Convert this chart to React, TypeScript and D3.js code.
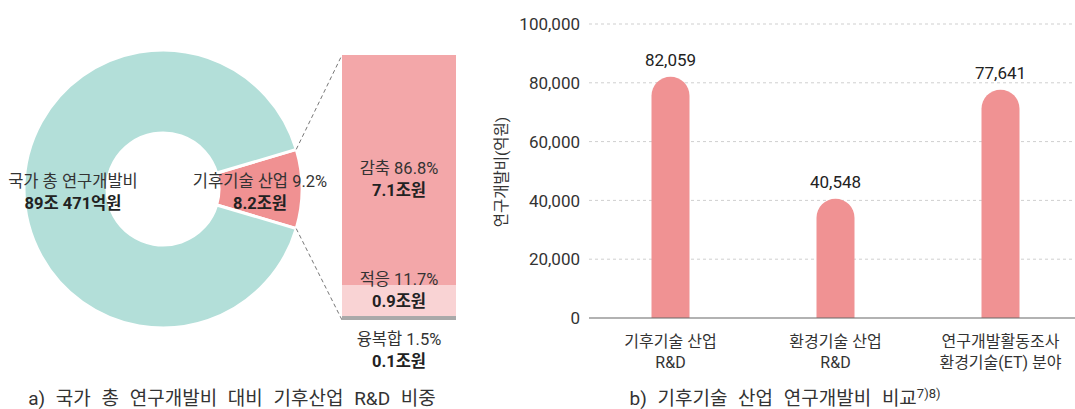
import React from 'react';
import * as d3 from 'd3';

// left: share of national R&D
const donutLabels = ['기후기술 산업', '국가 총 연구개발비'];
const donutShares = [9.2, 90.8];
const donutAmounts = ['8.2조원', '89조 471억원'];

// breakdown of the climate slice
const splitLabels = ['감축', '적응', '융복합'];
const splitShares = [86.8, 11.7, 1.5];
const splitAmounts = ['7.1조원', '0.9조원', '0.1조원'];

// right: R&D expenditure comparison
const barCategories = [['기후기술 산업', 'R&D'], ['환경기술 산업', 'R&D'], ['연구개발활동조사', '환경기술(ET) 분야']];
const barValues = [82059, 40548, 77641];
const yTicks = [0, 20000, 40000, 60000, 80000, 100000];

const FONT = "Roboto, 'Noto Sans CJK KR', 'Noto Sans', sans-serif";
const W = 1075;
const H = 409;

const roundTopBar = (x: number, y: number, w: number, h: number) => {
  const r = Math.min(w / 2, h);
  return `M${x},${y + h}V${y + r}A${r},${r} 0 0 1 ${x + w},${y + r}V${y + h}Z`;
};

export default function App() {
  // donut
  const cx = 163, cy = 189, R = 139, r0 = 56;
  const half = (donutShares[0] / 100) * Math.PI;
  const pie = d3.pie<number>().sort(null).startAngle(Math.PI / 2 - half).endAngle(Math.PI / 2 - half + 2 * Math.PI);
  const arcs = pie(donutShares);
  const arc = d3.arc<d3.PieArcDatum<number>>().innerRadius(r0).outerRadius(R);
  const donutColors = ['#f09192', '#b3dfd9'];
  const a0 = arcs[0].startAngle, a1 = arcs[0].endAngle;
  const p0 = [cx + R * Math.sin(a0), cy - R * Math.cos(a0)];
  const p1 = [cx + R * Math.sin(a1), cy - R * Math.cos(a1)];

  // breakdown column
  const colX = 342, colW = 114;
  const sy = d3.scaleLinear().domain([0, 100]).range([55, 320]);
  const splitColors = ['#f3a7a9', '#f9d3d4', '#a9a9a9'];
  let acc = 0;
  const segs = splitShares.map((v, i) => {
    const s = { y0: sy(acc), y1: sy(acc + v), i };
    acc += v;
    return s;
  });
  const splitTextY = [174, 285, 345];

  // bar chart
  const x = d3.scaleBand<number>().domain([0, 1, 2]).range([588, 1083]).padding(0);
  const y = d3.scaleLinear().domain([0, 100000]).range([318, 24]);
  const fmt = d3.format(',');
  const bw = 38;

  const lbl = { fontSize: 16.5, fill: '#333' } as const;
  const bold = { fontSize: 16.5, fontWeight: 700, fill: '#222' } as const;

  return (
    <svg width={W} height={H} style={{ position: 'absolute', left: 0, top: 0, fontFamily: FONT }}>
      <rect width={W} height={H} fill="#fff" />
      {/* donut */}
      <g transform={`translate(${cx},${cy})`}>
        {arcs.map((d, i) => (
          <path key={i} d={arc(d) || ''} fill={donutColors[i]} stroke="#fff" strokeWidth={3} />
        ))}
      </g>
      <text x={73} y={187} textAnchor="middle" {...lbl}>{donutLabels[1]}</text>
      <text x={73} y={209} textAnchor="middle" {...bold}>{donutAmounts[1]}</text>
      <text x={260} y={187} textAnchor="middle" {...lbl}>{donutLabels[0]} {donutShares[0]}%</text>
      <text x={260} y={209} textAnchor="middle" {...bold}>{donutAmounts[0]}</text>

      {/* connectors */}
      <line x1={p0[0]} y1={p0[1]} x2={colX} y2={sy(0)} stroke="#777" strokeWidth={1} strokeDasharray="4,3" />
      <line x1={p1[0]} y1={p1[1]} x2={colX} y2={sy(100)} stroke="#777" strokeWidth={1} strokeDasharray="4,3" />

      {/* breakdown */}
      {segs.map(s => (
        <rect key={s.i} x={colX} y={s.y0} width={colW} height={s.y1 - s.y0} fill={splitColors[s.i]} />
      ))}
      {splitLabels.map((l, i) => (
        <g key={l}>
          <text x={399} y={splitTextY[i]} textAnchor="middle" {...lbl}>{l} {splitShares[i]}%</text>
          <text x={399} y={splitTextY[i] + 22} textAnchor="middle" {...bold}>{splitAmounts[i]}</text>
        </g>
      ))}

      <text x={232} y={405} textAnchor="middle" fontSize={19} wordSpacing={6} fill="#333">a) 국가 총 연구개발비 대비 기후산업 R&amp;D 비중</text>

      {/* bar chart grid */}
      {yTicks.map(t => (
        <g key={t}>
          {t > 0 && <line x1={589} x2={W} y1={y(t)} y2={y(t)} stroke="#cfcfcf" strokeWidth={1} strokeDasharray="3,3" />}
          <text x={580} y={y(t)} dy="0.36em" textAnchor="end" fontSize={17} fill="#333">{fmt(t)}</text>
        </g>
      ))}
      {barValues.map((v, i) => {
        const cxb = (x(i) || 0) + x.bandwidth() / 2;
        return (
          <g key={i}>
            <path d={roundTopBar(cxb - bw / 2, y(v), bw, y(0) - y(v))} fill="#f09293" />
            <text x={cxb} y={y(v) - 11} textAnchor="middle" fontSize={17} fill="#222">{fmt(v)}</text>
            {barCategories[i].map((l, j) => (
              <text key={j} x={cxb} y={347 + j * 21} textAnchor="middle" fontSize={16} fill="#333">{l}</text>
            ))}
          </g>
        );
      })}
      <line x1={589} x2={W} y1={y(0)} y2={y(0)} stroke="#666" strokeWidth={1.2} />
      <text transform={`translate(507,172) rotate(-90)`} textAnchor="middle" fontSize={15.5} fill="#333">연구개발비(억원)</text>

      <text x={785} y={405} textAnchor="middle" fontSize={19} wordSpacing={6} fill="#333">
        b) 기후기술 산업 연구개발비 비교<tspan fontSize={13} dy={-7}>7)8)</tspan>
      </text>
    </svg>
  );
}
